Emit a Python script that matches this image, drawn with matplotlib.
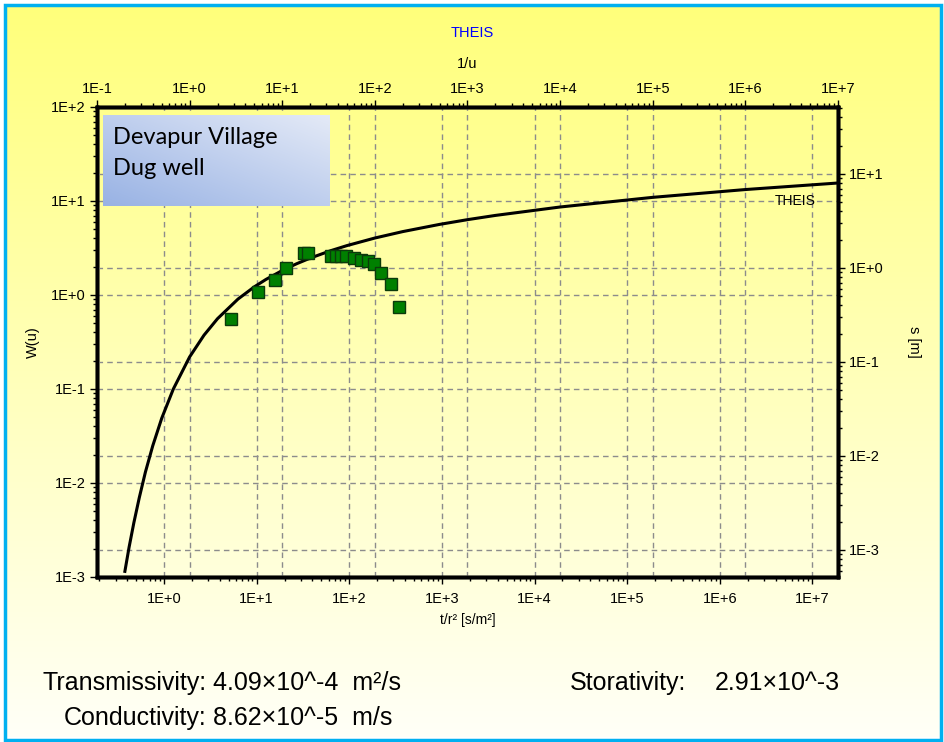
import numpy as np
import matplotlib
matplotlib.use('Agg')
import matplotlib.pyplot as plt
from matplotlib.ticker import LogLocator, FixedLocator, FuncFormatter, NullFormatter
from matplotlib.patches import Rectangle

# Theis type curve (1/u, W(u))
inv_u = [0.2, 0.222, 0.25, 0.286, 0.333, 0.4, 0.5, 0.667, 1.0, 1.43, 2.0, 3.33,
         5.0, 6.67, 10, 14.3, 20, 33.3, 50, 100, 200, 500, 1e3, 2e3, 1e4, 1e5, 1e6, 1e7]
w_u = [1.148e-3, 2.073e-3, 3.779e-3, 6.970e-3, 1.305e-2, 2.491e-2, 4.890e-2, 0.1000,
       0.2194, 0.3738, 0.5598, 0.9057, 1.2227, 1.4645, 1.8229, 2.1508, 2.4679,
       2.9591, 3.3547, 4.0379, 4.7261, 5.6394, 6.3315, 7.0242, 8.6332, 10.9357,
       13.2383, 15.5409]

# measured drawdown (t/r2, s)
t_r2 = [5.24, 10.4, 15.6, 20.7, 32.4, 36.2, 63.3, 72.6, 80.5, 91.9, 112.6, 134,
        158, 187, 222, 284, 347]
s_m = [0.287, 0.551, 0.749, 0.99, 1.43, 1.43, 1.34, 1.34, 1.34, 1.34, 1.27, 1.22,
       1.18, 1.09, 0.891, 0.676, 0.382]

# major ticks of each axis
top_ticks = [1e-1, 1e0, 1e1, 1e2, 1e3, 1e4, 1e5, 1e6, 1e7]
bottom_ticks = [1e0, 1e1, 1e2, 1e3, 1e4, 1e5, 1e6, 1e7]
left_ticks = [1e-3, 1e-2, 1e-1, 1e0, 1e1, 1e2]
right_ticks = [1e-3, 1e-2, 1e-1, 1e0, 1e1]

top_lim = (0.1, 1e7)
left_lim = (1e-3, 1e2)
bottom_lim = (0.189, 1.89e7)
right_lim = (5.16e-4, 51.6)

narrow = ['Liberation Sans Narrow', 'Liberation Sans', 'DejaVu Sans']
plt.rcParams['font.family'] = narrow

W, H = 945, 742
fig = plt.figure(figsize=(W / 100, H / 100), dpi=100)

# background gradient
bg = fig.add_axes([0, 0, 1, 1], zorder=-10)
grad = np.linspace(0, 1, 256).reshape(-1, 1)
top_c = np.array([255, 255, 122]) / 255
bot_c = np.array([255, 255, 248]) / 255
img = top_c * (1 - grad[..., None]) + bot_c * grad[..., None]
img = np.repeat(img, 2, axis=1)
bg.imshow(img, aspect='auto', extent=[0, 1, 0, 1])
bg.set_xlim(0, 1)
bg.set_ylim(0, 1)
bg.axis('off')
fig.patches.append(Rectangle((0, 0), 1, 1, transform=fig.transFigure,
                             facecolor='none', edgecolor='white', linewidth=8, zorder=-5))
fig.patches.append(Rectangle((5.5 / W, 2.5 / H), (W - 9) / W, (H - 7) / H,
                             transform=fig.transFigure, facecolor='none',
                             edgecolor='#00B0F0', linewidth=2.5, zorder=20))

pos = [97 / W, 165 / H, 741 / W, 470 / H]


def efmt(v, p):
    return '1E{:+d}'.format(int(round(np.log10(v))))


def style_axis(axis, ticks):
    axis.set_major_locator(FixedLocator(ticks))
    axis.set_minor_locator(LogLocator(base=10, subs=np.arange(2, 10), numticks=20))
    axis.set_major_formatter(FuncFormatter(efmt))
    axis.set_minor_formatter(NullFormatter())


grid_kw = dict(color='#8c8c8c', linestyle=(0, (4, 3)), linewidth=1)

ax = fig.add_axes(pos)
ax.set_facecolor('none')
ax.set_xscale('log')
ax.set_yscale('log')
ax.set_xlim(*bottom_lim)
ax.set_ylim(*left_lim)
style_axis(ax.xaxis, bottom_ticks)
style_axis(ax.yaxis, left_ticks)
ax.grid(True, which='major', **grid_kw)
ax.set_xlabel('t/r² [s/m²]', fontsize=10, labelpad=5)
ax.set_ylabel('W(u)', fontsize=10.5, labelpad=8)

ax_t = ax.twiny()
ax_t.set_xscale('log')
ax_t.set_xlim(*top_lim)
style_axis(ax_t.xaxis, top_ticks)
ax_t.grid(True, which='major', axis='x', **grid_kw)
ax_t.set_xlabel('1/u', fontsize=10.5, labelpad=10)

ax_r = ax.twinx()
ax_r.set_yscale('log')
ax_r.set_ylim(*right_lim)
style_axis(ax_r.yaxis, right_ticks)
ax_r.grid(True, which='major', axis='y', **grid_kw)
ax_r.set_ylabel('s [m]', fontsize=10.5, rotation=270, labelpad=22, va='center')

for a in (ax, ax_t, ax_r):
    a.tick_params(which='major', direction='out', length=5, width=1, labelsize=10.5, pad=3)
    a.tick_params(which='minor', direction='out', length=3, width=1)
    for sp in a.spines.values():
        sp.set_linewidth(2.5)
        sp.set_color('black')
ax.tick_params(axis='x', which='major', pad=6)

# curve layer (top x, left y)
axc = fig.add_axes(pos, frameon=False, zorder=5)
axc.set_xscale('log')
axc.set_yscale('log')
axc.set_xlim(*top_lim)
axc.set_ylim(*left_lim)
axc.plot(inv_u, w_u, color='black', linewidth=2.2)
axc.text(0.942, 0.80, 'THEIS', transform=axc.transAxes, ha='center', va='center',
         fontsize=10)
axc.axis('off')

# data layer (bottom x, right y)
axd = fig.add_axes(pos, frameon=False, zorder=6)
axd.set_xscale('log')
axd.set_yscale('log')
axd.set_xlim(*bottom_lim)
axd.set_ylim(*right_lim)
axd.plot(t_r2, s_m, linestyle='none', marker='s', markersize=8,
         markerfacecolor='#008000', markeredgecolor='#0b3a0b', markeredgewidth=1)
axd.axis('off')

# label box
box = fig.add_axes([103 / W, 536 / H, 227 / W, 91 / H], zorder=10)
gx, gy = np.meshgrid(np.linspace(0, 1, 200), np.linspace(0, 1, 100))
tt = ((gx + (1 - gy)) / 2)[..., None]
c0 = np.array([152, 178, 228]) / 255
c1 = np.array([228, 234, 247]) / 255
box.imshow(c0 * (1 - tt) + c1 * tt, aspect='auto', extent=[0, 1, 0, 1])
box.set_xlim(0, 1)
box.set_ylim(0, 1)
box.axis('off')
box.text(0.044, 0.75, 'Devapur Village', fontsize=17, va='center', ha='left',
         family=['Lato', 'DejaVu Sans'])
box.text(0.044, 0.41, 'Dug well', fontsize=17, va='center', ha='left',
         family=['Lato', 'DejaVu Sans'])

fig.text(472 / W, 1 - 33 / H, 'THEIS', color='#0000FF', fontsize=10.5,
         ha='center', va='center')

fs = 18
fig.text(207 / W, 1 - 683 / H, 'Transmissivity:', fontsize=fs, ha='right', va='center')
fig.text(213 / W, 1 - 683 / H, '4.09×10^-4  m²/s', fontsize=fs, ha='left', va='center')
fig.text(207 / W, 1 - 718 / H, 'Conductivity:', fontsize=fs, ha='right', va='center')
fig.text(213 / W, 1 - 718 / H, '8.62×10^-5  m/s', fontsize=fs, ha='left', va='center')
fig.text(570 / W, 1 - 683 / H, 'Storativity:', fontsize=fs, ha='left', va='center')
fig.text(715 / W, 1 - 683 / H, '2.91×10^-3', fontsize=fs, ha='left', va='center')

fig.savefig('out.png', dpi=100)
